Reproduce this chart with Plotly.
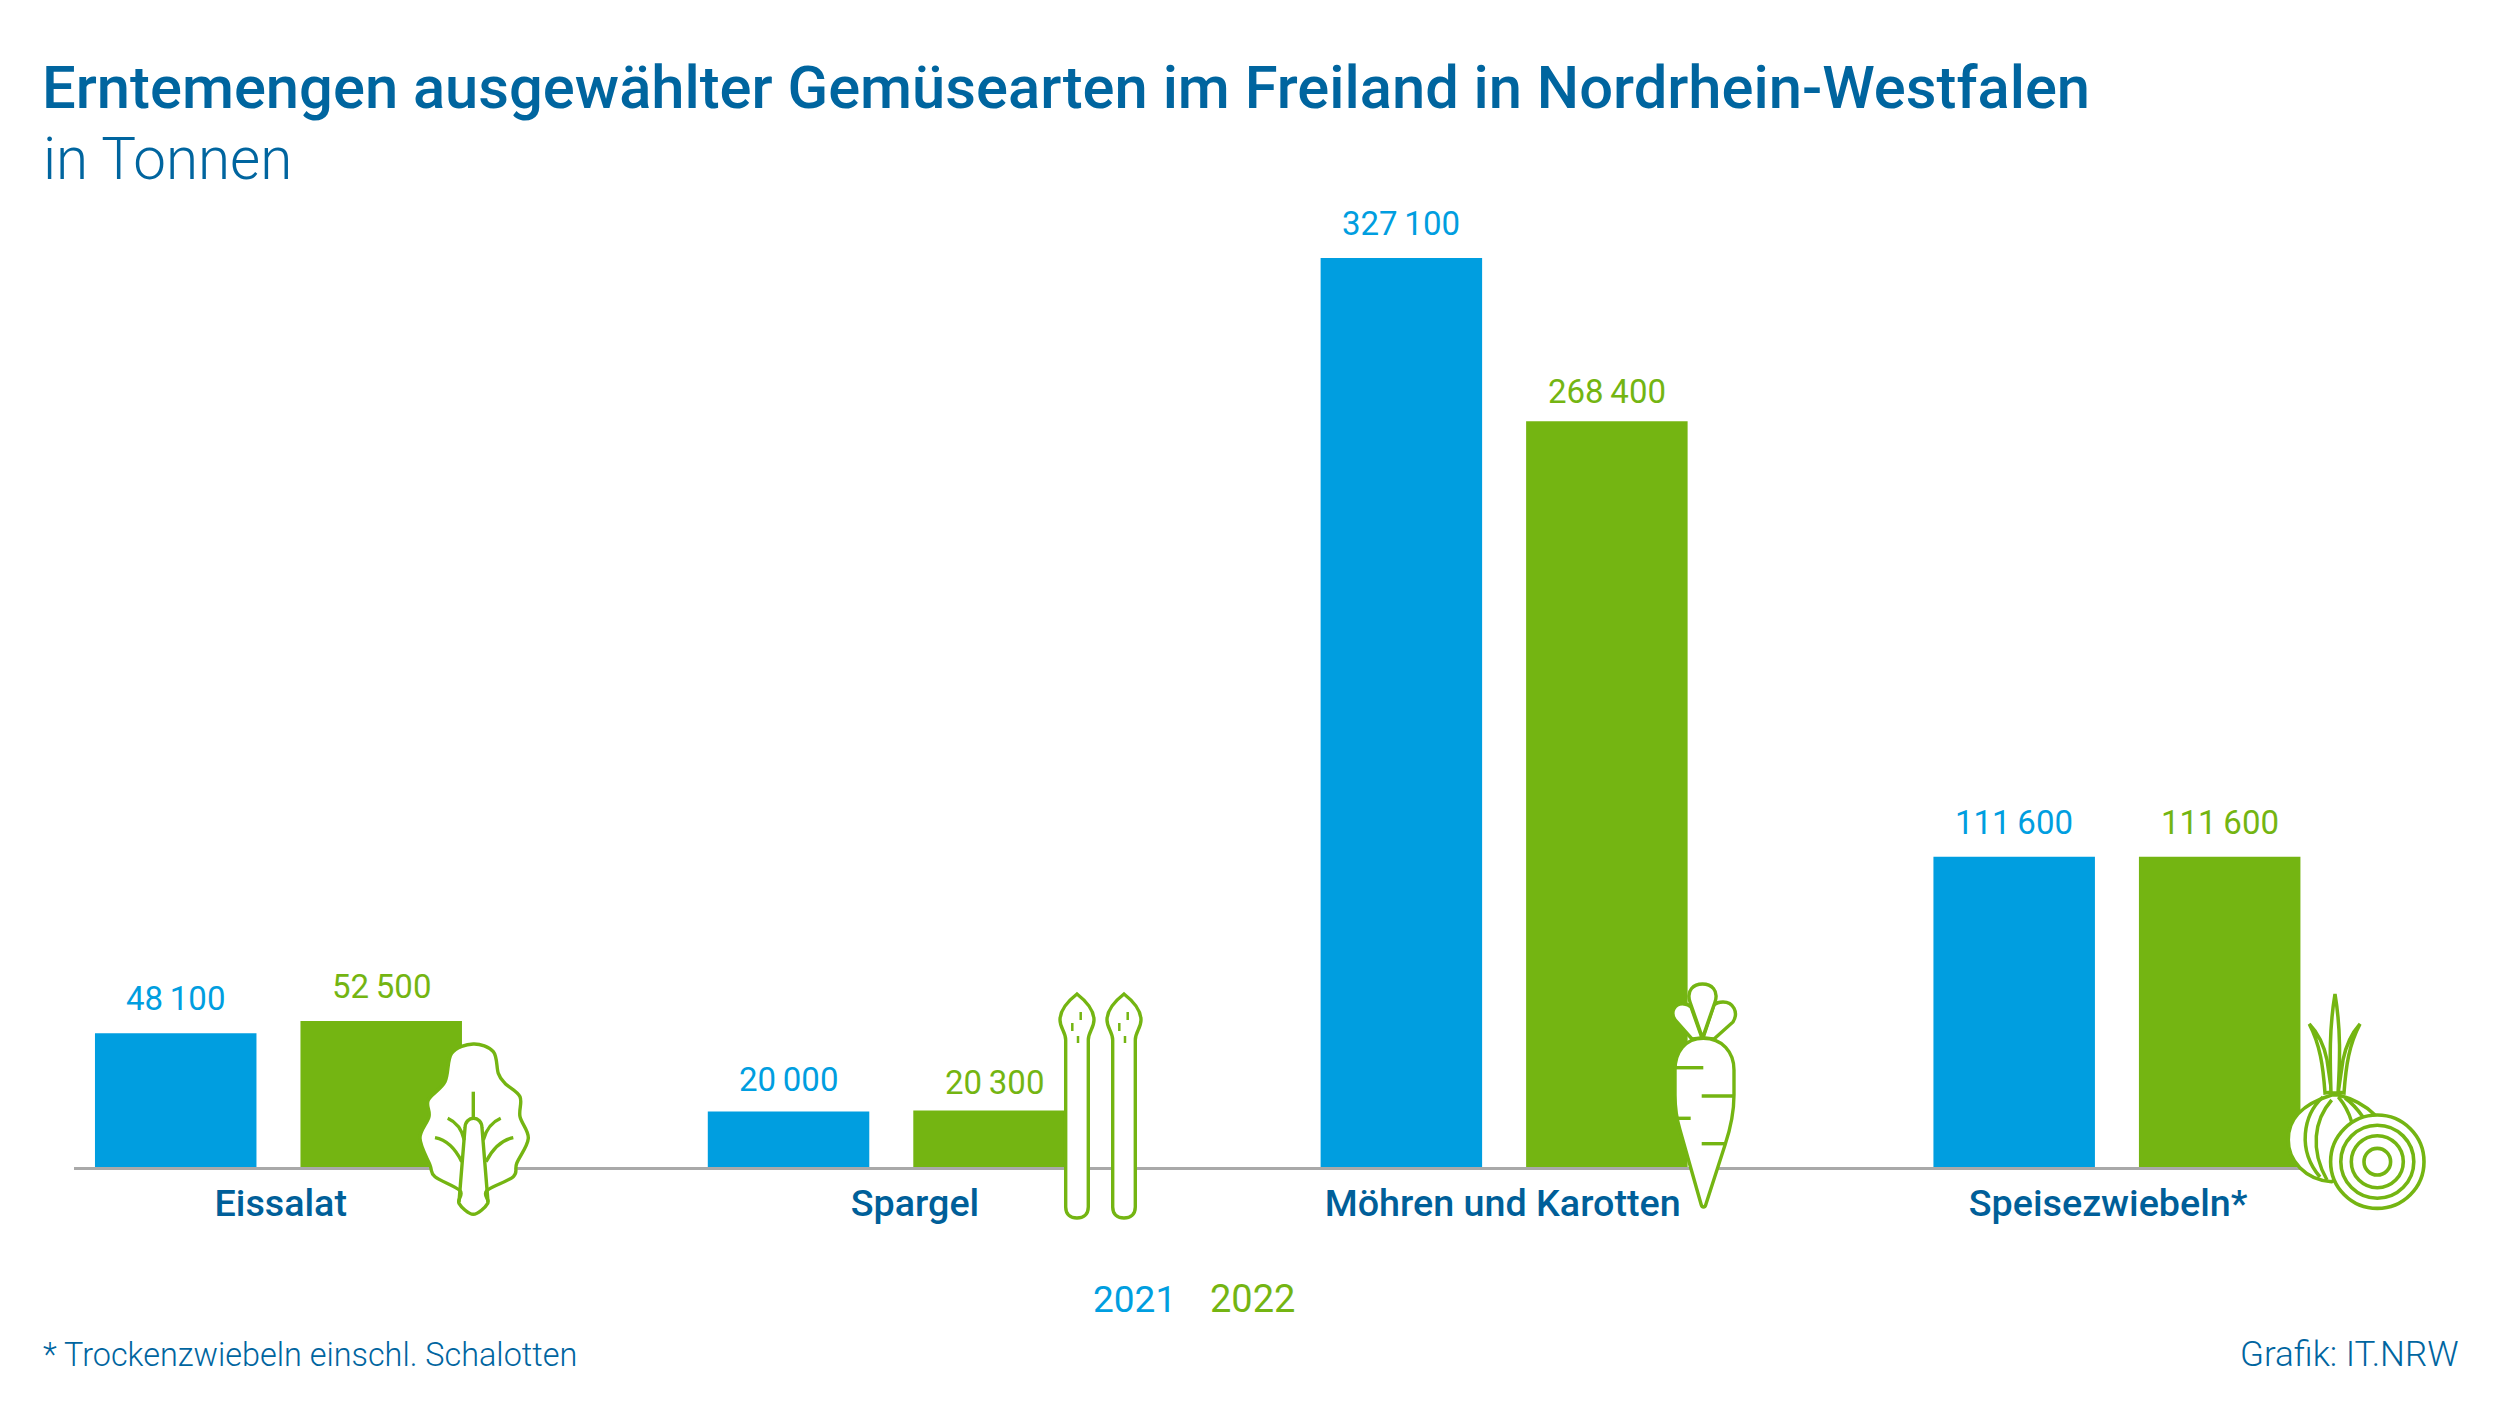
import re
import plotly.graph_objects as go

categories = ["Eissalat", "Spargel", "Möhren und Karotten", "Speisezwiebeln*"]
values_2021 = [48100, 20000, 327100, 111600]
values_2022 = [52500, 20300, 268400, 111600]
series_names = ["2021", "2022"]
label_positions = [0.004, 1.039, 1.998, 2.986]
label_shift_2021 = [13, 10, 13, 13]
label_shift_2022 = [13, 7, 8, 13]

BLUE = "#009EE0"
GREEN = "#74B512"
DARK = "#00659F"
FONT = "Roboto"

L, R, T, B = 74, 2321, 258, 1167
W, H = 2500, 1406
PITCH = (R - L) / (11 / 3)


def px(x, y):
    return (x - L) / (R - L), (B - y) / (B - T)


def to_paper(path):
    nums = iter(re.findall(r"[A-Z]|-?\d+\.?\d*", path))
    out = []
    for tok in nums:
        if tok.isalpha():
            out.append(tok)
        else:
            a, b = px(float(tok), float(next(nums)))
            out.append(f"{a:.5f},{b:.5f}")
    return " ".join(out)


def smooth(points):
    n = len(points)
    d = f"M {points[0][0]} {points[0][1]}"
    for i in range(n):
        p0, p1, p2, p3 = points[(i - 1) % n], points[i], points[(i + 1) % n], points[(i + 2) % n]
        c1 = (p1[0] + (p2[0] - p0[0]) / 6, p1[1] + (p2[1] - p0[1]) / 6)
        c2 = (p2[0] - (p3[0] - p1[0]) / 6, p2[1] - (p3[1] - p1[1]) / 6)
        d += f" C {c1[0]:.1f} {c1[1]:.1f} {c2[0]:.1f} {c2[1]:.1f} {p2[0]} {p2[1]}"
    return d + " Z"


shapes = []


def icon(path, fill="white", width=3.4):
    shapes.append(dict(type="path", xref="paper", yref="paper", path=to_paper(path),
                       fillcolor=fill, line=dict(color=GREEN, width=width), layer="above"))


def ring(cx, cy, r, fill="rgba(0,0,0,0)", width=3.6):
    x0, y0 = px(cx - r, cy + r)
    x1, y1 = px(cx + r, cy - r)
    shapes.append(dict(type="circle", xref="paper", yref="paper", x0=x0, y0=y0, x1=x1, y1=y1,
                       fillcolor=fill, line=dict(color=GREEN, width=width), layer="above"))


NONE = "rgba(0,0,0,0)"
# Lettuce
icon(smooth([(473.3, 1044), (493.3, 1051.7), (498.3, 1073.3), (505, 1083.3), (520, 1096.7), (520, 1116.7),
             (528.3, 1138.3), (516.7, 1163.3), (513.3, 1176.7), (486.7, 1190.7), (487.7, 1203.3),
             (473.3, 1214.3), (459, 1203.3), (460, 1190.7), (435, 1176.7), (430, 1165), (420, 1138.3),
             (429, 1116.7), (428.3, 1100), (445, 1081.7), (451.7, 1053.3)]))
icon("M 459 1202 L 465 1128 C 465 1115 482 1115 482 1128 L 488 1202", NONE)
icon("M 473.3 1091.7 L 473.3 1118", NONE)
icon("M 447.7 1118.3 C 456 1122 462 1130 464.3 1140", NONE)
icon("M 500.7 1118.3 C 492 1122 486 1130 483.3 1140", NONE)
icon("M 435 1137.7 C 447 1140 456 1150 461.7 1161.7", NONE)
icon("M 513.3 1137.7 C 501 1140 492 1150 486 1161.7", NONE)

# Asparagus
for cx in (1077, 1124):
    icon(f"M {cx} 994 C {cx+9} 1001 {cx+17} 1010 {cx+17} 1020 C {cx+17} 1028 {cx+11.3} 1032 {cx+11.3} 1040 "
         f"L {cx+11.3} 1207 C {cx+11.3} 1215 {cx+6} 1218 {cx} 1218 C {cx-6} 1218 {cx-11.3} 1215 {cx-11.3} 1207 "
         f"L {cx-11.3} 1040 C {cx-11.3} 1032 {cx-17} 1028 {cx-17} 1020 C {cx-17} 1010 {cx-9} 1001 {cx} 994 Z")
    icon(f"M {cx+3.7} 1012 L {cx+3.7} 1020", NONE, 2.5)
    icon(f"M {cx-4.7} 1023 L {cx-4.7} 1031", NONE, 2.5)
    icon(f"M {cx+1} 1036 L {cx+1} 1043", NONE, 2.5)

# Carrot
icon("M 1692 1039 L 1676 1021 C 1669 1012 1675 1003 1684 1004 C 1687 1004 1689 1005 1691 1007 L 1702 1038 Z")
icon("M 1714 1039 L 1733 1022 C 1739 1012 1733 1002 1723 1002 C 1719 1002 1716 1003 1714 1005 L 1703 1038 Z")
icon("M 1702.5 1038 L 1690 1002 C 1686 990 1694 984 1702.5 984 C 1711 984 1719 990 1715 1002 Z")
icon("M 1703.3 1038.3 C 1722 1038.3 1734 1052 1734 1070 L 1734 1095 C 1734 1115 1730 1130 1725 1145 "
     "L 1706 1204 C 1705 1208 1702 1208 1701 1204 L 1680 1130 C 1677 1120 1675 1110 1675 1095 "
     "L 1675 1070 C 1675 1052 1685 1038.3 1703.3 1038.3 Z")
icon("M 1675 1067.7 L 1703.3 1067.7", NONE)
icon("M 1701.7 1096 L 1734 1096", NONE)
icon("M 1676 1118.3 L 1690.7 1118.3", NONE)
icon("M 1701.7 1143.7 L 1725 1143.7", NONE)

# Onion
icon("M 2325 1093 C 2323 1065 2320 1045 2309.3 1024 C 2318 1033 2324 1045 2327 1060 L 2331.7 1092 Z", width=3.5)
icon("M 2344 1093 C 2346 1065 2349 1045 2360 1024 C 2352 1033 2346 1045 2343 1060 L 2338.3 1092 Z", width=3.5)
icon("M 2331 1093 C 2330 1060 2329 1030 2335 994 C 2341 1030 2340 1060 2338 1093 Z", width=3.5)
icon("M 2331.7 1095 C 2300 1105 2288 1120 2288.3 1140 C 2288 1160 2305 1180 2331.7 1181.7 L 2377 1160 L 2375 1115 "
     "C 2365 1105 2350 1098 2338.3 1095 Z", width=3.5)
icon("M 2323 1097 C 2303 1115 2297 1150 2320 1177", NONE, 3.5)
icon("M 2331.7 1100 C 2314 1120 2310 1150 2327 1180", NONE, 3.5)
icon("M 2338.3 1097 C 2345 1105 2349 1113 2351.7 1122", NONE, 3.5)
icon("M 2345 1098 C 2352 1103 2358 1110 2363 1117", NONE, 3.5)
ring(2377.3, 1161.7, 46.7, "white")
ring(2377.3, 1161.7, 36.5)
ring(2377.3, 1161.7, 26)
ring(2377.3, 1161.7, 13.3)

BAR_W = 161.5 / PITCH
OFF_A = -183.3 / PITCH
OFF_B = 22.2 / PITCH
bars = [
    go.Bar(name=series_names[0], x=list(range(4)), y=values_2021, width=BAR_W, offset=OFF_A,
           marker=dict(color=BLUE, line=dict(width=0)), cliponaxis=False, showlegend=False),
    go.Bar(name=series_names[1], x=list(range(4)), y=values_2022, width=BAR_W, offset=OFF_B,
           marker=dict(color=GREEN, line=dict(width=0)), cliponaxis=False, showlegend=False),
]
fig = go.Figure(bars)


def fmt(v):
    return f"{v:,}".replace(",", "\u2009")


annotations = []


def text(t, x, y, size, color, xanchor="left", weight=400):
    annotations.append(dict(text=t, xref="paper", yref="paper", x=(x - L) / (R - L), y=(B - y) / (B - T),
                            xanchor=xanchor, yanchor="middle", showarrow=False,
                            font=dict(family=FONT, size=size, color=color, weight=weight)))


for i in range(4):
    for vals, off, col, shift in ((values_2021, OFF_A + BAR_W / 2, BLUE, label_shift_2021),
                                  (values_2022, OFF_B + BAR_W / 2, GREEN, label_shift_2022)):
        annotations.append(dict(text=fmt(vals[i]), x=i + off, y=vals[i], xref="x", yref="y",
                                xanchor="center", yanchor="bottom", yshift=shift[i], showarrow=False,
                                font=dict(family=FONT, size=33, color=col)))

text("in Tonnen", 41, 159, 58.3, DARK, weight=300)
text(series_names[0], 1091, 1299, 37, BLUE)
text(series_names[1], 1208, 1299, 38, GREEN)
text("* Trockenzwiebeln einschl. Schalotten", 41, 1354.5, 32.4, DARK, weight=300)
text("Grafik: IT.NRW", 2461, 1354.5, 35, DARK, xanchor="right", weight=300)

fig.update_layout(
    width=W, height=H, autosize=False,
    margin=dict(l=L, r=W - R, t=T, b=H - B, pad=0),
    paper_bgcolor="white", plot_bgcolor="white",
    title=dict(text="Erntemengen ausgewählter Gemüsearten im Freiland in Nordrhein-Westfalen",
               xref="container", yref="container", x=42 / W, xanchor="left",
               y=1 - 87 / H, yanchor="middle",
               font=dict(family=FONT, size=59.7, color=DARK, weight=500)),
    shapes=shapes, annotations=annotations, showlegend=False,
    xaxis=dict(range=[-1 / 3, 10 / 3], tickmode="array", tickvals=label_positions, ticktext=categories,
               showgrid=False, zeroline=False, showline=True, linecolor="#A9A9A9", linewidth=2.5,
               ticks="outside", ticklen=1, tickcolor="rgba(0,0,0,0)",
               tickfont=dict(family=FONT, size=37.7, color="#005F99", weight=500)),
    yaxis=dict(range=[0, 327100], visible=False),
)
fig.write_html("out.html", post_script="document.body.style.margin='0';",
               config=dict(displayModeBar=False))
